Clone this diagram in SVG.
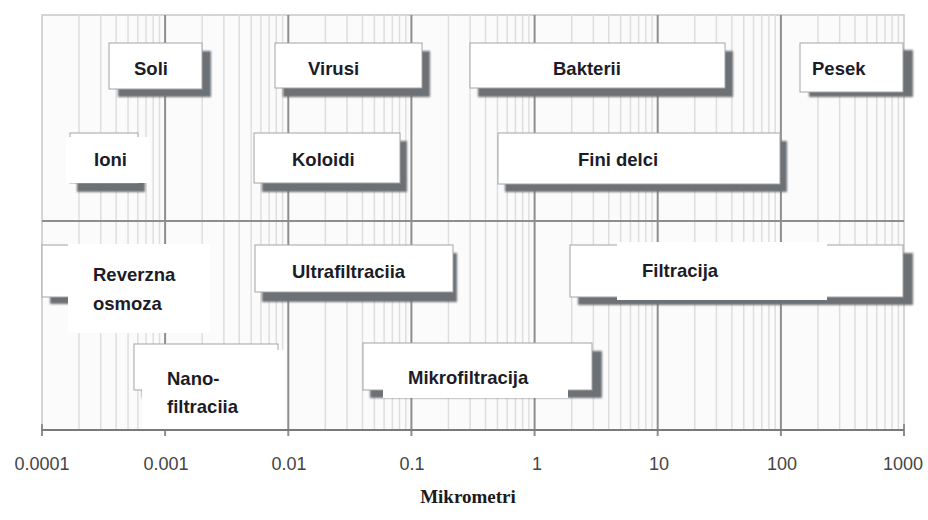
<svg xmlns="http://www.w3.org/2000/svg" xmlns:xlink="http://www.w3.org/1999/xlink" width="928" height="520" viewBox="0 0 928 520">
<defs>
<filter id="blur" x="-10%" y="-20%" width="120%" height="140%"><feGaussianBlur stdDeviation="1.3"/></filter>
<g id="decade">
<line x1="37.07" y1="15" x2="37.07" y2="430"/>
<line x1="58.75" y1="15" x2="58.75" y2="430"/>
<line x1="74.14" y1="15" x2="74.14" y2="430"/>
<line x1="86.07" y1="15" x2="86.07" y2="430"/>
<line x1="95.82" y1="15" x2="95.82" y2="430"/>
<line x1="104.06" y1="15" x2="104.06" y2="430"/>
<line x1="111.21" y1="15" x2="111.21" y2="430"/>
<line x1="117.5" y1="15" x2="117.5" y2="430"/>
</g>
</defs>
<style>
.bar{fill:#fff;stroke:#a4a4a4;stroke-width:1}
.sh{fill:#6c7175;filter:url(#blur)}
.lab{fill:#fff}
.t{font-family:"Liberation Sans",Arial,sans-serif;font-weight:bold;font-size:18.5px;fill:#1c1c28}
.minor{stroke:#dedede;stroke-width:1.5}
.major{stroke:#8e8e8e;stroke-width:2}
.ax{font-family:"Liberation Sans",Arial,sans-serif;font-size:18px;fill:#444;text-anchor:middle}
</style>
<rect width="928" height="520" fill="#fff"/>
<g id="grid">
<rect x="42" y="15" width="862" height="415" fill="#fbfbfb" stroke="#c8c8c8" stroke-width="1.5"/>
<g class="minor">
<use xlink:href="#decade" x="42"/>
<use xlink:href="#decade" x="165.1"/>
<use xlink:href="#decade" x="288.3"/>
<use xlink:href="#decade" x="411.4"/>
<use xlink:href="#decade" x="534.6"/>
<use xlink:href="#decade" x="657.7"/>
<use xlink:href="#decade" x="780.9"/>
</g>
<g class="major">
<line x1="165.1" y1="15" x2="165.1" y2="436"/>
<line x1="288.3" y1="15" x2="288.3" y2="436"/>
<line x1="411.4" y1="15" x2="411.4" y2="436"/>
<line x1="534.6" y1="15" x2="534.6" y2="436"/>
<line x1="657.7" y1="15" x2="657.7" y2="436"/>
<line x1="780.9" y1="15" x2="780.9" y2="436"/>
<line x1="42" y1="424" x2="42" y2="436"/>
<line x1="904" y1="424" x2="904" y2="436"/>
</g>
<line x1="42" y1="221" x2="904" y2="221" stroke="#8e8e8e" stroke-width="1.8"/>
<line x1="42" y1="430" x2="904" y2="430" stroke="#7a7a7a" stroke-width="1.8"/>
</g>
<g id="connectors"/>
<g id="soli"><rect class="sh" x="118" y="51" width="93" height="46"/><rect class="bar" x="109" y="43" width="93" height="46"/><text class="t" x="134" y="75">Soli</text></g>
<g id="virusi"><rect class="sh" x="283" y="51" width="147" height="46"/><rect class="bar" x="275" y="43" width="147" height="45"/><text class="t" x="308" y="75">Virusi</text></g>
<g id="bakterii"><rect class="sh" x="478" y="51" width="255" height="46"/><rect class="bar" x="470" y="43" width="255" height="45"/><text class="t" x="553" y="75">Bakterii</text></g>
<g id="pesek"><rect class="sh" x="809" y="50" width="104" height="47"/><rect class="bar" x="800" y="43" width="103" height="49"/><text class="t" x="812" y="75">Pesek</text></g>
<g id="ioni"><rect class="sh" x="77" y="141" width="68" height="51"/><rect class="bar" x="70" y="133" width="68" height="50"/><rect class="lab" x="66" y="137" width="84" height="46"/><text class="t" x="94" y="166">Ioni</text></g>
<g id="koloidi"><rect class="sh" x="262" y="141" width="145" height="51"/><rect class="bar" x="254" y="133" width="146" height="50"/><text class="t" x="292" y="166">Koloidi</text></g>
<g id="fini-delci"><rect class="sh" x="505" y="141" width="282" height="51"/><rect class="bar" x="498" y="133" width="282" height="51"/><text class="t" x="578" y="166">Fini delci</text></g>
<g id="reverzna-osmoza"><rect class="sh" x="50" y="253" width="155" height="51"/><rect class="bar" x="42" y="245" width="160" height="52"/><rect class="lab" x="68" y="244" width="142" height="89"/><text class="t" x="93" y="281">Reverzna</text><text class="t" x="93" y="310">osmoza</text></g>
<g id="ultrafiltraciia"><rect class="sh" x="262" y="253" width="195" height="49"/><rect class="bar" x="255" y="245" width="198" height="47"/><text class="t" x="292" y="278">Ultrafiltraciia</text></g>
<g id="filtracija"><rect class="sh" x="578" y="253" width="335" height="52"/><rect class="bar" x="570" y="245" width="333" height="52"/><rect class="lab" x="617" y="242" width="210" height="58"/><text class="t" x="642" y="277">Filtracija</text></g>
<g id="nanofiltraciia"><rect class="sh" x="142" y="352" width="138" height="46"/><rect class="bar" x="134" y="344" width="144" height="46"/><rect class="lab" x="142" y="350" width="143" height="79"/><text class="t" x="167" y="385">Nano-</text><text class="t" x="167" y="413">filtraciia</text></g>
<g id="mikrofiltracija"><rect class="sh" x="370" y="351" width="232" height="47"/><rect class="bar" x="363" y="343" width="229" height="47"/><rect class="lab" x="383" y="350" width="185" height="48"/><text class="t" x="408" y="384">Mikrofiltracija</text></g>
<g id="axis-labels">
<text class="ax" x="42" y="470">0.0001</text>
<text class="ax" x="166" y="470">0.001</text>
<text class="ax" x="289" y="470">0.01</text>
<text class="ax" x="412" y="470">0.1</text>
<text class="ax" x="537" y="470">1</text>
<text class="ax" x="659" y="470">10</text>
<text class="ax" x="782" y="470">100</text>
<text class="ax" x="903" y="470">1000</text>
</g>
<text x="468" y="503" text-anchor="middle" font-family="'Liberation Serif','Times New Roman',serif" font-weight="bold" font-size="19" fill="#1a1a1a">Mikrometri</text>
</svg>
